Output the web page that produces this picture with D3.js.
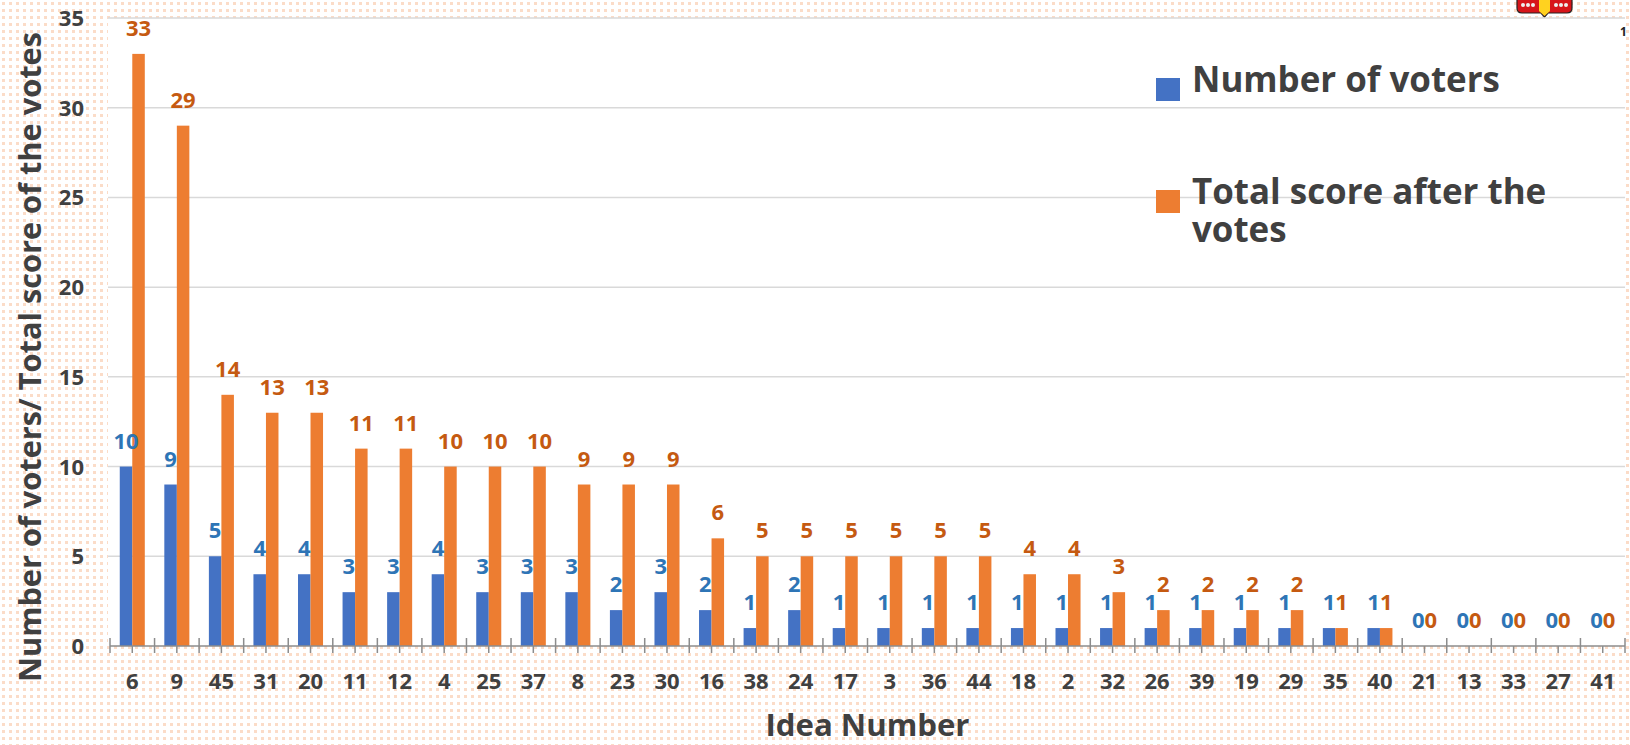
<!DOCTYPE html>
<html>
<head>
<meta charset="utf-8">
<script src="https://cdn.jsdelivr.net/npm/d3@7"></script>
<style>
  html, body { margin: 0; padding: 0; background: #fff; }
  svg { display: block; }
  text { font-family: "Open Sans", "Lato", sans-serif; font-weight: 700; }
</style>
</head>
<body>
<div id="chart"></div>
<script>
// Ideas in ranked order, with number of voters and total score per idea
const ideas = ["6","9","45","31","20","11","12","4","25","37","8","23","30","16","38","24","17","3","36","44","18","2","32","26","39","19","29","35","40","21","13","33","27","41"];
const voters = [10,9,5,4,4,3,3,4,3,3,3,2,3,2,1,2,1,1,1,1,1,1,1,1,1,1,1,1,1,0,0,0,0,0];
const scores = [33,29,14,13,13,11,11,10,10,10,9,9,9,6,5,5,5,5,5,5,4,4,3,2,2,2,2,1,1,0,0,0,0,0];
const yTicks = [0,5,10,15,20,25,30,35];
const seriesNames = ["Number of voters", "Total score after the votes"];

const W = 1630, H = 745;
const plot = { left: 110, right: 1625, top: 18, bottom: 646 };
const barColors = ["#4472C4", "#ED7D31"];
const labelColors = ["#2E75B6", "#C55A11"];
const textColor = "#404040";

const rows = ideas.map((id, i) => ({ id, values: [voters[i], scores[i]] }));

const svg = d3.select("#chart").append("svg").attr("width", W).attr("height", H);

// scale a text's font size so that it spans the given length
function fitWidth(sel, target) {
  const node = sel.node();
  const size = parseFloat(sel.attr("font-size"));
  const len = node.getComputedTextLength();
  if (len > 0) sel.attr("font-size", (size * target / len).toFixed(2));
  return sel;
}

// dotted peach backdrop
const defs = svg.append("defs");
const pat = defs.append("pattern").attr("id", "dots").attr("patternUnits", "userSpaceOnUse")
  .attr("width", 7).attr("height", 7);
pat.append("rect").attr("width", 7).attr("height", 7).attr("fill", "#ffffff");
pat.append("rect").attr("x", 2).attr("y", 2).attr("width", 3).attr("height", 3).attr("fill", "#fbdcc8");
svg.append("rect").attr("width", W).attr("height", H).attr("fill", "url(#dots)");

// white plot panel
svg.append("rect").attr("x", plot.left - 2).attr("y", plot.top)
  .attr("width", plot.right - plot.left + 2).attr("height", plot.bottom - plot.top).attr("fill", "#fff");

// small crest at the top edge
const crest = svg.append("g").attr("transform", "translate(1517,0)");
crest.append("path").attr("d", "M0,-2 L55,-2 L55,8 Q55,13 50,13 L31,13 L27.5,17 L24,13 L5,13 Q0,13 0,8 Z")
  .attr("fill", "#d7141a").attr("stroke", "#222").attr("stroke-width", 1.2);
crest.append("path").attr("d", "M22,-2 L33,-2 L33,11 L27.5,16 L22,11 Z").attr("fill", "#ffd21f");
[5,10,15,38,43,48].forEach(cx => crest.append("circle").attr("cx", cx + 1).attr("cy", 5).attr("r", 2).attr("fill", "#eee"));
svg.append("text").attr("x", 1620).attr("y", 36).attr("font-size", 12).attr("fill", "#222").text("1");

const x = d3.scaleBand().domain(ideas).range([plot.left, plot.right]).padding(0);
const xInner = d3.scaleBand().domain([0, 1]).range([0, x.bandwidth()]).paddingInner(0).paddingOuter(0.78);
const y = d3.scaleLinear().domain([0, 35]).range([plot.bottom, plot.top]);

// gridlines
svg.append("g").selectAll("line").data(yTicks.filter(v => v > 0)).join("line")
  .attr("x1", plot.left - 2).attr("x2", plot.right)
  .attr("y1", d => y(d)).attr("y2", d => y(d))
  .attr("stroke", "#d9d9d9").attr("stroke-width", 1.5);

// y tick labels
svg.append("g").selectAll("text").data(yTicks).join("text")
  .attr("x", 84).attr("y", d => y(d) + 8)
  .attr("text-anchor", "end").attr("font-size", 22).attr("fill", textColor)
  .text(d => d);

// bars
const groups = svg.append("g").selectAll("g").data(rows).join("g")
  .attr("transform", d => `translate(${x(d.id)},0)`);
groups.selectAll("rect").data(d => d.values.map((v, k) => ({ v, k }))).join("rect")
  .attr("x", d => xInner(d.k)).attr("width", xInner.bandwidth())
  .attr("y", d => y(d.v)).attr("height", d => y(0) - y(d.v))
  .attr("fill", d => barColors[d.k]);

// value labels
groups.selectAll("text").data(d => d.values.map((v, k) => ({ v, k }))).join("text")
  .attr("x", d => xInner(d.k) + xInner.bandwidth() / 2)
  .attr("y", d => y(d.v) - 18)
  .attr("text-anchor", "middle").attr("font-size", 22)
  .attr("fill", d => labelColors[d.k])
  .text(d => d.v);

// x axis line and ticks
const axis = svg.append("g").attr("stroke", "#8c8c8c").attr("stroke-width", 1.5);
axis.append("line").attr("x1", plot.left).attr("x2", plot.right).attr("y1", plot.bottom).attr("y2", plot.bottom);
const bounds = ideas.map(id => x(id)).concat([plot.right]);
axis.selectAll(".major").data(bounds).join("line").attr("class", "major")
  .attr("x1", d => d).attr("x2", d => d).attr("y1", plot.bottom - 8).attr("y2", plot.bottom + 7);
axis.selectAll(".minor").data(ideas).join("line").attr("class", "minor")
  .attr("x1", d => x(d) + x.bandwidth() / 2).attr("x2", d => x(d) + x.bandwidth() / 2)
  .attr("y1", plot.bottom).attr("y2", plot.bottom + 7);

// x tick labels
svg.append("g").selectAll("text").data(ideas).join("text")
  .attr("x", d => x(d) + x.bandwidth() / 2).attr("y", 689)
  .attr("text-anchor", "middle").attr("font-size", 22).attr("fill", textColor)
  .text(d => d);

// axis titles
fitWidth(svg.append("text").attr("x", (plot.left + plot.right) / 2).attr("y", 736)
  .attr("text-anchor", "middle").attr("font-size", 30).attr("fill", textColor).text("Idea Number"), 204);
fitWidth(svg.append("text").attr("transform", "translate(41,357) rotate(-90)")
  .attr("text-anchor", "middle").attr("font-size", 30).attr("fill", textColor)
  .text("Number of voters/ Total score of the votes"), 650);

// legend
const legend = svg.append("g");
const legendRows = [
  { y: 78, lines: ["Number of voters"], k: 0 },
  { y: 190, lines: ["Total score after the", "votes"], k: 1 }
];
const legendFont = (() => {
  const probe = legend.append("text").attr("font-size", 36).text(seriesNames[0]);
  fitWidth(probe, 308);
  const s = probe.attr("font-size");
  probe.remove();
  return s;
})();
legendRows.forEach(r => {
  legend.append("rect").attr("x", 1156).attr("y", r.y).attr("width", 24).attr("height", 23).attr("fill", barColors[r.k]);
  const t = legend.append("text").attr("x", 1192).attr("y", r.y + 14)
    .attr("font-size", legendFont).attr("fill", textColor);
  r.lines.forEach((ln, i) => {
    t.append("tspan").attr("x", 1192).attr("dy", i === 0 ? 0 : 38).text(ln);
  });
});
</script>
</body>
</html>
